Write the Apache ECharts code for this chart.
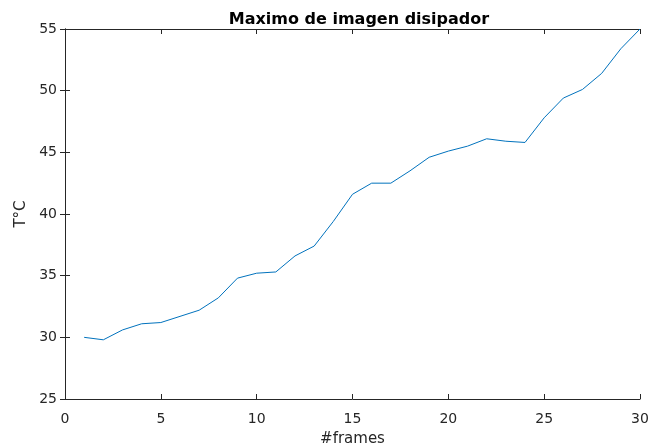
<!DOCTYPE html>
<html><head><meta charset="utf-8">
<script src="https://cdn.jsdelivr.net/npm/echarts@6/dist/echarts.min.js"></script>
<style>html,body{margin:0;padding:0;background:#fff}#c{width:652px;height:446px}</style>
</head><body><div id="c"></div>
<script>
var frames = [1,2,3,4,5,6,7,8,9,10,11,12,13,14,15,16,17,18,19,20,21,22,23,24,25,26,27,28,29,30];
var temps = [30.0,29.8,30.6,31.1,31.2,31.7,32.2,33.2,34.8,35.2,35.3,36.6,37.4,39.4,41.6,42.5,42.5,43.5,44.6,45.1,45.5,46.1,45.9,45.8,47.8,49.4,50.1,51.4,53.4,55.0];
var xTicks = [0,5,10,15,20,25,30];
var yTicks = [25,30,35,40,45,50,55];
var titleText = 'Maximo de imagen disipador';
var xName = '#frames';
var yName = 'T°C';

var font = 'DejaVu Sans, Liberation Sans, sans-serif';
var axisColor = '#262626';
var chart = echarts.init(document.getElementById('c'));
var data = frames.map(function(f,i){return [f,temps[i]];});
function axBase(extra){
  var o = {
    type:'value', splitLine:{show:false},
    axisLine:{show:true,lineStyle:{color:axisColor,width:1}},
    axisTick:{show:true,inside:true,length:5,lineStyle:{color:axisColor}}
  };
  for (var k in extra) o[k]=extra[k];
  return o;
}
chart.setOption({
  animation:false,
  title:{text:titleText,left:354,textAlign:'center',top:7,
    textStyle:{fontFamily:font,fontSize:16,fontWeight:'bold',color:'#000'}},
  grid:{left:65,right:12,top:29,bottom:47,containLabel:false,outerBoundsMode:'none'},
  xAxis:[
    axBase({min:xTicks[0],max:xTicks[xTicks.length-1],interval:5,position:'bottom',
      name:xName,nameLocation:'middle',nameGap:33,
      nameTextStyle:{fontFamily:font,fontSize:15,color:axisColor},
      axisLabel:{fontFamily:font,fontSize:14,color:axisColor,margin:13}}),
    axBase({min:xTicks[0],max:xTicks[xTicks.length-1],interval:5,position:'top',axisLabel:{show:false}})
  ],
  yAxis:[
    axBase({min:yTicks[0],max:yTicks[yTicks.length-1],interval:5,position:'left',
      name:yName,nameLocation:'middle',nameGap:34,nameRotate:90,
      nameTextStyle:{fontFamily:font,fontSize:15,color:axisColor},
      axisLabel:{fontFamily:font,fontSize:14,color:axisColor,margin:8}}),
    axBase({min:yTicks[0],max:yTicks[yTicks.length-1],interval:5,position:'right',axisLabel:{show:false}})
  ],
  series:[{type:'line',data:data,showSymbol:false,symbol:'none',
    lineStyle:{color:'#0072BD',width:1},xAxisIndex:0,yAxisIndex:0}]
});
</script></body></html>
